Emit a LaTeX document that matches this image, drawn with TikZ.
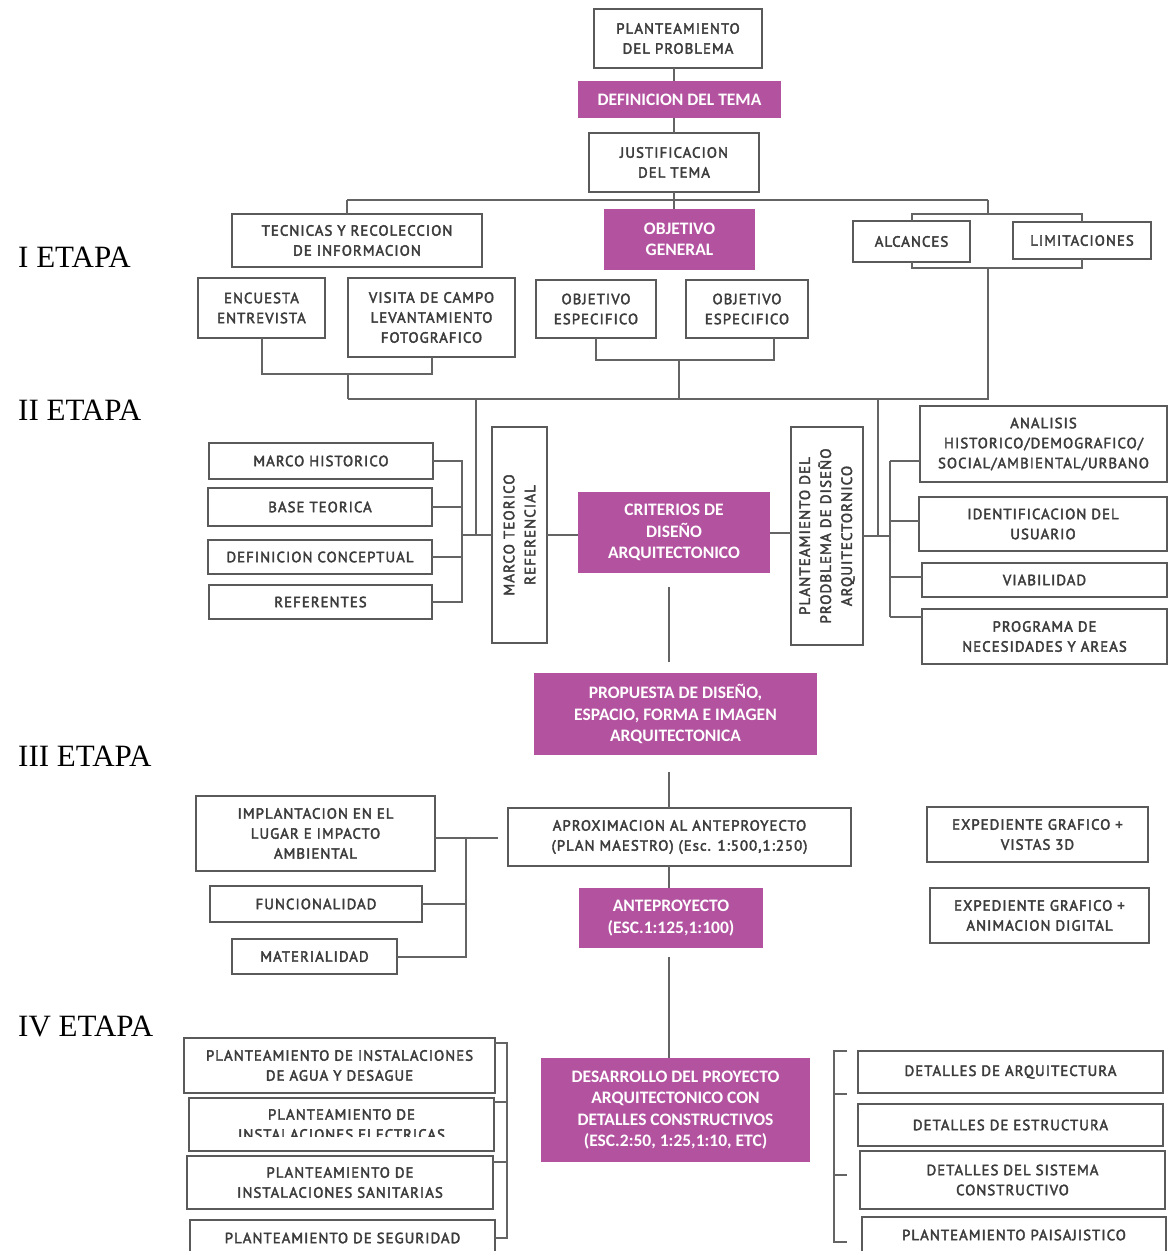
\documentclass[tikz,border=0pt]{standalone}
\usepackage{fontspec}
\setmainfont{Liberation Serif}
\newfontfamily\pinkfont{Carlito}
\newfontfamily\dinfont{PT Sans}[LetterSpace=7,FakeBold=2.6]
\definecolor{pinkc}{RGB}{179,83,160}
\definecolor{linec}{RGB}{100,100,100}
\definecolor{bordc}{RGB}{90,90,90}
\definecolor{txtc}{RGB}{60,60,60}
\tikzset{
  wbox/.style={draw=bordc, line width=2pt, fill=white, inner sep=0pt, outer sep=0pt, align=center, text=txtc, font=\dinfont\fontsize{14.8}{20}\selectfont},
  pbox/.style={fill=pinkc, inner sep=0pt, outer sep=0pt, align=center, text=white, font=\pinkfont\bfseries\fontsize{17.5}{21.5}\selectfont},
  conn/.style={draw=linec, line width=2pt},
  etapa/.style={font=\fontsize{31}{31}\selectfont, anchor=base west, inner sep=0pt, text=black}
}
\newcommand\Bx[7]{\node[#6, minimum width={(#4-#2)*1pt}, minimum height={(#5-#3)*1pt}] (#1) at ({(#2+#4)/2},{(#3+#5)/2}) {#7};}
\begin{document}
\begin{tikzpicture}[x=1pt,y=-1pt]
\useasboundingbox (0,0) rectangle (1169,1251);
\fill[white] (0,0) rectangle (1169,1251);
\clip (0,0) rectangle (1169,1251);

% ETAPA labels
\node[etapa] (et1) at (18,267) {I ETAPA};
\node[etapa] (et2) at (18,420) {II ETAPA};
\node[etapa] (et3) at (18,766) {III ETAPA};
\node[etapa] (et4) at (18,1036) {IV ETAPA};

% ---------- I ETAPA ----------
\Bx{p1}{594}{9}{762}{68}{wbox}{PLANTEAMIENTO\\DEL PROBLEMA}
\Bx{d1}{578}{81}{781}{118}{pbox}{DEFINICION DEL TEMA}
\Bx{j1}{589}{133}{759}{192}{wbox}{JUSTIFICACION\\DEL TEMA}
\Bx{tec}{232}{214}{482}{267}{wbox}{TECNICAS Y RECOLECCION\\DE INFORMACION}
\Bx{og}{604}{209}{755}{270}{pbox}{OBJETIVO\\GENERAL}
\Bx{alc}{853}{221}{970}{262}{wbox}{ALCANCES}
\Bx{lim}{1013}{222}{1151}{259}{wbox}{LIMITACIONES}
\Bx{enc}{198}{278}{325}{338}{wbox}{ENCUESTA\\ENTREVISTA}
\Bx{vis}{348}{278}{515}{357}{wbox}{VISITA DE CAMPO\\LEVANTAMIENTO\\FOTOGRAFICO}
\Bx{oe1}{536}{280}{656}{338}{wbox}{OBJETIVO\\ESPECIFICO}
\Bx{oe2}{686}{280}{808}{338}{wbox}{OBJETIVO\\ESPECIFICO}

\coordinate (ax) at (674,0);
\draw[conn] (p1.south -| ax) -- (ax |- d1.north);
\draw[conn] (d1.south -| ax) -- (ax |- j1.north);
\coordinate (hA) at (347,200);
\coordinate (hB) at (988,200);
\draw[conn] (j1.south -| ax) -- (ax |- hA);
\draw[conn] (hA) -- (hB);
\draw[conn] (hA) -- (hA |- tec.north);
\draw[conn] (ax |- hA) -- (ax |- og.north);
\coordinate (rT) at (988,214);
\coordinate (rB) at (988,268);
\draw[conn] (hB) -- (rT);
\draw[conn] (alc.north) -- (alc.north |- rT) -- (lim.north |- rT) -- (lim.north);
\draw[conn] (alc.south) -- (alc.south |- rB) -- (lim.south |- rB) -- (lim.south);
\coordinate (hC) at (348,399);
\coordinate (hD) at (988,399);
\draw[conn] (rB) -- (hD) -- (hC);
\coordinate (eb) at (348,374);
\draw[conn] (enc.south) -- (enc.south |- eb) -- (vis.south |- eb) -- (vis.south);
\draw[conn] (eb) -- (hC);
\coordinate (ob) at (679,360);
\coordinate (obR) at (774,360);
\draw[conn] (oe1.south) -- (oe1.south |- ob) -- (obR) -- (obR |- oe2.south);
\draw[conn] (ob) -- (ob |- hC);

% ---------- II ETAPA ----------
\node[wbox, font=\dinfont\fontsize{15}{21}\selectfont, rotate=90, minimum width=216pt, minimum height=55pt] (mt) at (519.5,535) {MARCO TEORICO\\REFERENCIAL};
\Bx{cr}{578}{492}{770}{573}{pbox}{CRITERIOS DE\\DISEÑO\\ARQUITECTONICO}
\node[wbox, font=\dinfont\fontsize{15}{21}\selectfont, rotate=90, minimum width=218pt, minimum height=72pt] (pp) at (827,536) {PLANTEAMIENTO DEL\\PRODBLEMA DE DISEÑO\\ARQUITECTORNICO};
\Bx{mh}{209}{443}{433}{479}{wbox}{MARCO HISTORICO}
\Bx{bt}{208}{488}{432}{526}{wbox}{BASE TEORICA}
\Bx{dc}{208}{540}{432}{574}{wbox}{DEFINICION CONCEPTUAL}
\Bx{rf}{209}{585}{432}{619}{wbox}{REFERENTES}
\Bx{an}{920}{406}{1167}{482}{wbox}{ANALISIS\\HISTORICO/DEMOGRAFICO/\\SOCIAL/AMBIENTAL/URBANO}
\Bx{id}{919}{497}{1167}{551}{wbox}{IDENTIFICACION DEL\\USUARIO}
\Bx{vi}{922}{563}{1167}{597}{wbox}{VIABILIDAD}
\Bx{pg}{922}{609}{1167}{664}{wbox}{PROGRAMA DE\\NECESIDADES Y AREAS}

\coordinate (vL) at (476,399);
\coordinate (vR) at (878,399);
\coordinate (lbx) at (462,532);
\coordinate (rbx) at (890,532);
\draw[conn] (vL) -- (vL |- mt.north);
\draw[conn] (vR) -- (vR |- pp.south);
\draw[conn] (mh.east) -- (mh.east -| lbx) -- (rf.east -| lbx) -- (rf.east);
\draw[conn] (bt.east) -- (bt.east -| lbx);
\draw[conn] (dc.east) -- (dc.east -| lbx);
\draw[conn] (lbx |- mt.north) -- (mt.north);
\draw[conn] (mt.south) -- (mt.south -| cr.west);
\draw[conn] (cr.east) -- (cr.east -| pp.north);
\draw[conn] (pp.south) -- (pp.south -| rbx);
\coordinate (r1) at (890,461);
\coordinate (r2) at (890,521);
\coordinate (r3) at (890,577);
\coordinate (r4) at (890,617);
\draw[conn] (r1) -- (r4);
\draw[conn] (r1) -- (r1 -| an.west);
\draw[conn] (r2) -- (r2 -| id.west);
\draw[conn] (r3) -- (r3 -| vi.west);
\draw[conn] (r4) -- (r4 -| pg.west);

% ---------- III ETAPA ----------
\Bx{pr}{534}{673}{817}{755}{pbox}{PROPUESTA DE DISEÑO,\\ESPACIO, FORMA E IMAGEN\\ARQUITECTONICA}
\Bx{ap}{508}{808}{851}{866}{wbox}{APROXIMACION AL ANTEPROYECTO\\(PLAN MAESTRO) (Esc. 1:500,1:250)}
\Bx{an2}{579}{888}{763}{948}{pbox}{ANTEPROYECTO\\(ESC.1:125,1:100)}
\Bx{im}{196}{796}{435}{871}{wbox}{IMPLANTACION EN EL\\LUGAR E IMPACTO\\AMBIENTAL}
\Bx{fu}{210}{886}{422}{922}{wbox}{FUNCIONALIDAD}
\Bx{ma}{232}{939}{397}{974}{wbox}{MATERIALIDAD}
\Bx{e1}{927}{807}{1148}{862}{wbox}{EXPEDIENTE GRAFICO +\\VISTAS 3D}
\Bx{e2}{930}{888}{1149}{943}{wbox}{EXPEDIENTE GRAFICO +\\ANIMACION DIGITAL}

\coordinate (ax2) at (669,0);
\draw[conn, shorten <=14pt, shorten >=11pt] (cr.south -| ax2) -- (ax2 |- pr.north);
\draw[conn, shorten <=17pt] (pr.south -| ax2) -- (ax2 |- ap.north);
\draw[conn] (ap.south -| ax2) -- (ax2 |- an2.north);
\coordinate (lb3) at (466,838);
\coordinate (lb3e) at (498,838);
\draw[conn] (im.east |- lb3) -- (lb3e);
\draw[conn] (lb3) -- (lb3 |- ma.east) -- (ma.east);
\draw[conn] (fu.east) -- (fu.east -| lb3);

% ---------- IV ETAPA ----------
\Bx{de}{541}{1058}{810}{1162}{pbox}{DESARROLLO DEL PROYECTO\\ARQUITECTONICO CON\\DETALLES CONSTRUCTIVOS\\(ESC.2:50, 1:25,1:10, ETC)}
\Bx{a1}{184}{1038}{495}{1093}{wbox}{PLANTEAMIENTO DE INSTALACIONES\\DE AGUA Y DESAGUE}
\Bx{a2}{189}{1098}{494}{1151}{wbox}{}
\begin{scope}
\clip (189,1098) rectangle (494,1136);
\node[align=center, text=txtc, font=\dinfont\fontsize{14.8}{20}\selectfont, inner sep=0pt] (a2t) at (a2.center) {PLANTEAMIENTO DE\\INSTALACIONES ELECTRICAS};
\end{scope}
\Bx{a3}{187}{1156}{493}{1209}{wbox}{PLANTEAMIENTO DE\\INSTALACIONES SANITARIAS}
\Bx{a4}{190}{1220}{495}{1256}{wbox}{PLANTEAMIENTO DE SEGURIDAD}
\Bx{b1}{858}{1051}{1163}{1093}{wbox}{DETALLES DE ARQUITECTURA}
\Bx{b2}{858}{1104}{1163}{1146}{wbox}{DETALLES DE ESTRUCTURA}
\Bx{b3}{860}{1151}{1165}{1209}{wbox}{DETALLES DEL SISTEMA\\CONSTRUCTIVO}
\Bx{b4}{862}{1217}{1166}{1253}{wbox}{PLANTEAMIENTO PAISAJISTICO}

\draw[conn, shorten <=9pt] (an2.south -| ax2) -- (ax2 |- de.north);
\coordinate (q1) at (507,1043);
\coordinate (q2) at (507,1102);
\coordinate (q3) at (507,1162);
\coordinate (q4) at (507,1238);
\draw[conn] (q1 -| a1.east) -- (q1) -- (q4) -- (q4 -| a4.east);
\draw[conn] (q2 -| a2.east) -- (q2);
\draw[conn] (q3 -| a3.east) -- (q3);
\coordinate (sE) at (847,0);
\coordinate (s1) at (834,1051);
\coordinate (s2) at (834,1094);
\coordinate (s3) at (834,1175);
\coordinate (s4) at (834,1242);
\draw[conn] (s1 -| sE) -- (s1) -- (s4) -- (s4 -| sE);
\draw[conn] (s2) -- (s2 -| sE);
\draw[conn] (s3) -- (s3 -| sE);
\end{tikzpicture}
\end{document}
